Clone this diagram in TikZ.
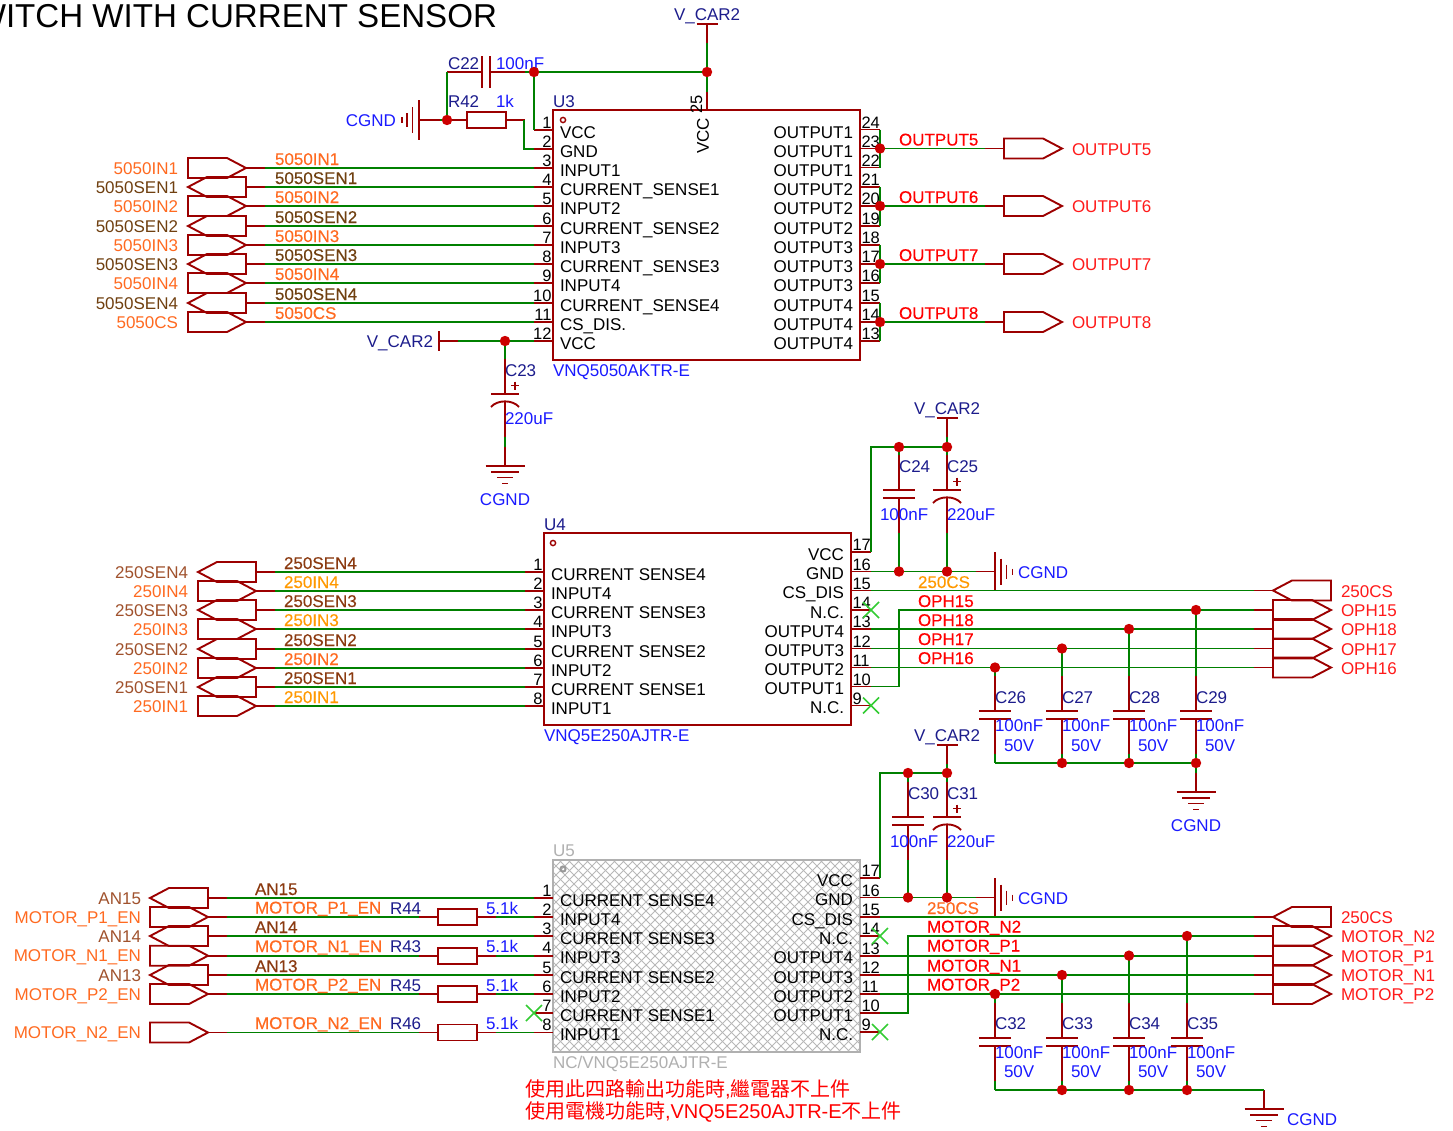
\documentclass[tikz,border=0pt]{standalone}
\usepackage{fontspec}
\setmainfont{Liberation Sans}
\newfontfamily\cjk{Noto Sans CJK TC}
\newfontfamily\netf[FakeBold=0.25]{Liberation Sans}
\definecolor{wred}{HTML}{9C0000}
\definecolor{wgreen}{HTML}{008000}
\definecolor{navy}{HTML}{1C1C8C}
\definecolor{vblue}{HTML}{1A1AFF}
\definecolor{porang}{HTML}{FF6A20}
\definecolor{pbrown}{HTML}{704010}
\definecolor{pbrownb}{HTML}{A0522D}
\definecolor{namber}{HTML}{FF9900}
\definecolor{nobrown}{HTML}{8B3A10}
\definecolor{rtext}{HTML}{FF1A1A}
\definecolor{grayt}{HTML}{B0B0B0}
\definecolor{ncx}{HTML}{33CC33}
\definecolor{jdot}{HTML}{CC0000}
\newcommand\nus{\raisebox{0.9pt}{\_}}
\newcount\nodeno
\tikzset{
  every node/.append style={/utils/exec={\global\advance\nodeno by 1},name=n\the\nodeno},
  rw/.style={draw=wred,line width=1.9pt},
  gw/.style={draw=wgreen,line width=1.9pt},
  boxl/.style={draw=wred,line width=2pt},
  portl/.style={draw=wred,line width=1.9pt,line join=miter},
  txt/.style={inner sep=0,outer sep=0,anchor=base west,font=\fontsize{17}{20}\selectfont},
  txtr/.style={txt,anchor=base east},
  txtc/.style={txt,anchor=base},
  netl/.style={inner sep=0,outer sep=0,anchor=base west,font=\netf\fontsize{17}{20}\selectfont},
  pinn/.style={txt,font=\fontsize{16.5}{20}\selectfont},
  dot/.style={circle,fill=jdot,inner sep=0,minimum size=10.4pt,draw=none},
  ncl/.style={draw=ncx,line width=1.5pt},
}
% port with tip to the right, shape left edge at #2; the wire stub goes to the right
\newcommand\portOL[3]{%
  \draw[portl] (#2,#3-10)--(#2+39,#3-10)--(#2+58,#3)--(#2+39,#3+10)--(#2,#3+10)--cycle;
  \draw[rw] (#2+58,#3)--(#2+77,#3);
  \coordinate (#1) at (#2+77,#3);}
% port with tip to the left, shape tip at #2; the wire stub goes to the right
\newcommand\portIL[3]{%
  \draw[portl] (#2,#3)--(#2+19,#3-10)--(#2+58,#3-10)--(#2+58,#3+10)--(#2+19,#3+10)--cycle;
  \draw[rw] (#2+58,#3)--(#2+77,#3);
  \coordinate (#1) at (#2+77,#3);}
% ports with the wire stub at their left (#2 = shape left end)
\newcommand\portOR[3]{%
  \draw[portl] (#2,#3-10)--(#2+39,#3-10)--(#2+58,#3)--(#2+39,#3+10)--(#2,#3+10)--cycle;
  \draw[rw] (#2-19,#3)--(#2,#3);
  \coordinate (#1) at (#2-19,#3);}
\newcommand\portIR[3]{%
  \draw[portl] (#2,#3)--(#2+19,#3-10)--(#2+58,#3-10)--(#2+58,#3+10)--(#2+19,#3+10)--cycle;
  \draw[rw] (#2-19,#3)--(#2,#3);
  \coordinate (#1) at (#2-19,#3);}
\newcommand\capv[3]{%
  \draw[rw] (#2,#3-35)--(#2,#3) (#2-16,#3)--(#2+16,#3) (#2-16,#3+8)--(#2+16,#3+8) (#2,#3+8)--(#2,#3+43);
  \coordinate (#1-t) at (#2,#3-35);\coordinate (#1-b) at (#2,#3+43);}
\newcommand\capp[3]{%
  \draw[rw] (#2,#3-35)--(#2,#3) (#2-14,#3)--(#2+14,#3) (#2,#3+7.5)--(#2,#3+43);
  \draw[draw=wred,line width=1.9pt] (#2-14,#3+13) .. controls (#2-8,#3+5.5) and (#2+8,#3+5.5) .. (#2+14,#3+13);
  \draw[draw=wred,line width=1.7pt] (#2+6,#3-8.5)--(#2+14,#3-8.5) (#2+10,#3-12.5)--(#2+10,#3-4.5);
  \coordinate (#1-t) at (#2,#3-35);\coordinate (#1-b) at (#2,#3+43);}
\newcommand\gndv[3]{%
  \draw[rw] (#2,#3-19)--(#2,#3) (#2-19.5,#3)--(#2+19.5,#3) (#2-14,#3+6)--(#2+14,#3+6) (#2-8,#3+11.5)--(#2+8,#3+11.5) (#2-3,#3+17.5)--(#2+3,#3+17.5);
  \coordinate (#1) at (#2,#3-19);}
\newcommand\gndhr[3]{%
  \draw[rw] (#2-19,#3)--(#2,#3) (#2,#3-19.5)--(#2,#3+19.5) (#2+6,#3-13)--(#2+6,#3+13) (#2+11.5,#3-7)--(#2+11.5,#3+7) (#2+17.5,#3-3)--(#2+17.5,#3+3);
  \coordinate (#1) at (#2-19,#3);}
\newcommand\resh[3]{%
  \draw[rw] (#2-19,#3)--(#2,#3) (#2+39,#3)--(#2+58,#3);
  \draw[portl] (#2,#3-8)--(#2+39,#3-8)--(#2+39,#3+8)--(#2,#3+8)--cycle;
  \coordinate (#1-l) at (#2-19,#3);\coordinate (#1-r) at (#2+58,#3);}
\newcommand\vcar[3]{%
  \draw[rw] (#2-10.5,#3)--(#2+10.5,#3) (#2,#3)--(#2,#3+19);
  \coordinate (#1) at (#2,#3+19);
  \node[txt,text=navy] at (#2-33,#3-4) {V\_CAR2};}
\newcommand\ncmark[2]{\draw[ncl] (#1-8,#2-8)--(#1+8,#2+8) (#1-8,#2+8)--(#1+8,#2-8);}
\begin{document}
\begin{tikzpicture}[x=1pt,y=-1pt]
\path[use as bounding box] (0,0) rectangle (1453,1130);
\fill[white] (0,0) rectangle (1453,1130);
\node[txt,anchor=base east,font=\fontsize{33.1}{40}\selectfont] (title) at (497,27.5) {WITCH WITH CURRENT SENSOR};

%% ---------- U3 ----------
\draw[boxl] (553,110) rectangle (860,360);
\draw[draw=wred,line width=1.4pt] (563,120) circle (2.6);
\node[txt,text=navy] (U3ref) at (553,107) {U3};
\node[txt,text=vblue] (U3val) at (553,376) {VNQ5050AKTR-E};
\foreach \nm/\yy/\tx in {1/130/VCC,2/149/GND,3/168/INPUT1,4/187/CURRENT\_SENSE1,5/206/INPUT2,6/226/CURRENT\_SENSE2,7/245/INPUT3,8/264/CURRENT\_SENSE3,9/283/INPUT4,10/303/CURRENT\_SENSE4,11/322/CS\_DIS.,12/341/VCC}{
  \draw[rw] (534,\yy)--(553,\yy);
  \coordinate (U3-\nm) at (534,\yy);
  \node[pinn,anchor=base east] at (551.5,\yy-2) {\nm};
  \node[txt] at (560,\yy+8) {\tx};
}
\foreach \nm/\yy/\tx in {24/129.5/OUTPUT1,23/148.5/OUTPUT1,22/167.5/OUTPUT1,21/187/OUTPUT2,20/206/OUTPUT2,19/226/OUTPUT2,18/245/OUTPUT3,17/264/OUTPUT3,16/283/OUTPUT3,15/303/OUTPUT4,14/322/OUTPUT4,13/341/OUTPUT4}{
  \draw[rw] (860,\yy)--(880,\yy);
  \coordinate (U3-\nm) at (880,\yy);
  \node[pinn] at (861.5,\yy-1.5) {\nm};
  \node[txtr] at (853,\yy+8.5) {\tx};
}
\draw[rw] (707,92)--(707,110);
\coordinate (U3-25) at (707,92);
\node[pinn,anchor=center,rotate=90] (pin25) at (696.5,104) {25};
\node[txt,anchor=center,rotate=90] (vcc25) at (703,136) {VCC};

% supply and decoupling of U3
\vcar{VC1}{707}{24}
\coordinate (JV) at (707,72);
\coordinate (JC) at (534,72);
\coordinate (JG) at (447,120);
\draw[gw] (VC1)--(U3-25);
\draw[gw] (JC)--(JV);
\draw[gw] (JC)|-(U3-1);
\draw[rw] (447,72)--(482,72) (490,72)--(525,72) (482,56)--(482,88) (490,56)--(490,88);
\coordinate (C22-l) at (447,72);\coordinate (C22-r) at (525,72);
\draw[gw] (C22-r)--(JC);
\draw[gw] (C22-l)--(JG);
\node[txt,text=navy] (C22) at (448,69) {C22};
\node[txt,text=vblue] (C22v) at (496,69) {100nF};
\resh{R42}{467}{120}
\node[txt,text=navy] (R42n) at (448,107) {R42};
\node[txt,text=vblue] (R42v) at (496,107) {1k};
\coordinate (R42e) at (524,120);
\draw[gw] (R42e)|-(U3-2);
% CGND left of R42
\draw[rw] (440,120)--(419,120) (419,100)--(419,140) (412.5,107)--(412.5,133) (407,113)--(407,127) (402,117)--(402,123);
\coordinate (GL) at (440,120);
\draw[gw] (GL)--(JG);
\node[txtr,text=vblue] (CGNDa) at (396,126) {CGND};
% V_CAR2 at pin 12
\draw[rw] (439,331)--(439,351) (439,341)--(458,341);
\coordinate (VL) at (458,341);
\draw[gw] (VL)--(U3-12);
\node[txtr,text=navy] (VCb) at (433,347) {V\_CAR2};
\coordinate (J12) at (505,341);
\capp{C23c}{505}{394}
\node[txt,text=navy] (C23) at (505,376) {C23};
\node[txt,text=vblue] (C23v) at (505,424) {220uF};
\gndv{G23}{505}{466}
\draw[gw] (J12)--(C23c-t);
\draw[gw] (C23c-b)--(G23);
\node[txtc,text=vblue] (CGNDb) at (505,505) {CGND};

% left ports U3
\foreach \nm/\yy/\tx in {3/168/5050IN1,5/206/5050IN2,7/245/5050IN3,9/283/5050IN4,11/322/5050CS}{
  \portOL{PA\nm}{188}{\yy}
  \draw[gw] (PA\nm)--(U3-\nm);
  \node[txtr,text=porang] at (178,\yy+6) {\tx};
  \node[netl,text=porang] at (275,\yy-3) {\tx};
}
\foreach \nm/\yy/\tx in {4/187/5050SEN1,6/226/5050SEN2,8/264/5050SEN3,10/303/5050SEN4}{
  \portIL{PA\nm}{188}{\yy}
  \draw[gw] (PA\nm)--(U3-\nm);
  \node[txtr,text=pbrown] at (178,\yy+6) {\tx};
  \node[netl,text=pbrown] at (275,\yy-3) {\tx};
}
% right outputs U3
\foreach \aa/\bb/\cc/\yy/\tx in {24/23/22/148.5/OUTPUT5,21/20/19/206/OUTPUT6,18/17/16/264/OUTPUT7,15/14/13/322/OUTPUT8}{
  \draw[gw] (U3-\aa)--(U3-\cc);
  \portOR{PO\bb}{1004}{\yy}
  \draw[gw] (U3-\bb)--(PO\bb);
  \node[txt,text=rtext] at (1072,\yy+6.5) {\tx};
  \node[netl,text=red] at (899,\yy-3) {\tx};
  \node[dot] at (U3-\bb) {};
}

%% ---------- U4 ----------
\draw[boxl] (544,533) rectangle (851,725);
\draw[draw=wred,line width=1.4pt] (553,543) circle (2.6);
\node[txt,text=navy] (U4ref) at (544,530) {U4};
\node[txt,text=vblue] (U4val) at (544,741) {VNQ5E250AJTR-E};
\foreach \nm/\yy/\tx in {1/572/CURRENT SENSE4,2/591/INPUT4,3/610/CURRENT SENSE3,4/629/INPUT3,5/649/CURRENT SENSE2,6/668/INPUT2,7/687/CURRENT SENSE1,8/706/INPUT1}{
  \draw[rw] (525,\yy)--(544,\yy);
  \coordinate (U4-\nm) at (525,\yy);
  \node[pinn,anchor=base east] at (542.5,\yy-2) {\nm};
  \node[txt] at (551,\yy+8) {\tx};
}
\foreach \nm/\yy/\tx in {17/552/VCC,16/571.5/GND,15/590.5/CS\_DIS,14/610/N.C.,13/629/OUTPUT4,12/648.5/OUTPUT3,11/667.5/OUTPUT2,10/686.5/OUTPUT1,9/705.5/N.C.}{
  \draw[rw] (851,\yy)--(871,\yy);
  \coordinate (U4-\nm) at (871,\yy);
  \node[pinn] at (852.5,\yy-1.5) {\nm};
  \node[txtr] at (844,\yy+8) {\tx};
}
\ncmark{871}{610}
\ncmark{871}{705.5}
\foreach \nm/\yy/\tx/\cl in {2/591/250IN4/namber,4/629/250IN3/namber,6/668/250IN2/porang,8/706/250IN1/namber}{
  \portOL{PB\nm}{198}{\yy}
  \draw[gw] (PB\nm)--(U4-\nm);
  \node[txtr,text=porang] at (188,\yy+6) {\tx};
  \node[netl,text=\cl] at (284,\yy-3) {\tx};
}
\foreach \nm/\yy/\tx in {1/572/250SEN4,3/610/250SEN3,5/649/250SEN2,7/687/250SEN1}{
  \portIL{PB\nm}{198}{\yy}
  \draw[gw] (PB\nm)--(U4-\nm);
  \node[txtr,text=pbrownb] at (188,\yy+6) {\tx};
  \node[netl,text=nobrown] at (284,\yy-3) {\tx};
}
\vcar{VC2}{947}{418}
\coordinate (J24t) at (899,447);
\coordinate (J25t) at (947,447);
\coordinate (J24b) at (899,571.5);
\coordinate (J25b) at (947,571.5);
\draw[gw] (VC2)--(J25t);
\draw[gw] (U4-17)|-(J25t);
\capv{C24c}{899}{490}
\capp{C25c}{947}{490}
\draw[gw] (J24t)--(C24c-t) (C24c-b)--(J24b);
\draw[gw] (J25t)--(C25c-t) (C25c-b)--(J25b);
\node[txt,text=navy] (C24) at (899,472) {C24};
\node[txt,text=vblue] (C24v) at (880,520) {100nF};
\node[txt,text=navy] (C25) at (947,472) {C25};
\node[txt,text=vblue] (C25v) at (947,520) {220uF};
\gndhr{G4}{995}{571.5}
\draw[gw] (U4-16)--(G4);
\node[txt,text=vblue] (CGNDc) at (1018,578) {CGND};
% right ports U4
\portIR{PC1}{1273}{590.5}
\portOR{PC2}{1273}{610}
\portOR{PC3}{1273}{629}
\portOR{PC4}{1273}{648.5}
\portOR{PC5}{1273}{667.5}
\node[txt,text=rtext] (pcA) at (1341,597) {250CS};
\node[txt,text=rtext] (pcB) at (1341,616) {OPH15};
\node[txt,text=rtext] (pcC) at (1341,635) {OPH18};
\node[txt,text=rtext] (pcD) at (1341,655) {OPH17};
\node[txt,text=rtext] (pcE) at (1341,674) {OPH16};
\coordinate (B4) at (899,686.5);
\draw[gw] (U4-15)--(PC1);
\draw[gw] (U4-10)--(B4)|-(PC2);
\draw[gw] (U4-13)--(PC3);
\draw[gw] (U4-12)--(PC4);
\draw[gw] (U4-11)--(PC5);
\node[netl,text=namber] (n250a) at (918,588) {250CS};
\foreach \yy/\tx in {601/OPH15,620/OPH18,639/OPH17,658/OPH16}{
  \node[netl,text=red] at (918,\yy+6) {\tx};
}
\foreach \nm/\xx/\yy in {C26/995/667.5,C27/1062/648.5,C28/1129/629,C29/1196/610}{
  \capv{\nm c}{\xx}{711}
  \coordinate (J\nm) at (\xx,\yy);
  \coordinate (K\nm) at (\xx,763);
  \draw[gw] (J\nm)--(\nm c-t) (\nm c-b)--(K\nm);
  \node[txt,text=navy] at (\xx,703) {\nm};
  \node[txt,text=vblue] at (\xx,731) {100nF};
  \node[txt,text=vblue] at (\xx+9,751) {50V};
}
\draw[gw] (KC26)--(KC29);
\gndv{G5}{1196}{792}
\draw[gw] (KC29)--(G5);
\node[txtc,text=vblue] (CGNDd) at (1196,831) {CGND};

%% ---------- U5 ----------
\begin{scope}
\clip (553,860) rectangle (860,1052);
\foreach \k in {0,9,...,504}{
  \draw[draw=black!28,line width=0.9pt] ({553+\k},860)--({553+\k-192},1052);
  \draw[draw=black!28,line width=0.9pt] ({553+\k-192},860)--({553+\k},1052);
}
\end{scope}
\draw[draw=grayt,line width=2pt] (553,860) rectangle (860,1052);
\draw[draw=black!40,line width=2pt] (563,869) circle (2.6);
\node[txt,text=grayt] (U5ref) at (553,856) {U5};
\node[txt,text=grayt] (U5val) at (553,1068) {NC/VNQ5E250AJTR-E};
\foreach \nm/\yy/\tx in {1/898/CURRENT SENSE4,2/917/INPUT4,3/936/CURRENT SENSE3,4/955.7/INPUT3,5/975/CURRENT SENSE2,6/994/INPUT2,7/1013/CURRENT SENSE1,8/1032.5/INPUT1}{
  \draw[rw] (534,\yy)--(553,\yy);
  \coordinate (U5-\nm) at (534,\yy);
  \node[pinn,anchor=base east] at (551.5,\yy-2) {\nm};
  \node[txt] at (560,\yy+8) {\tx};
}
\foreach \nm/\yy/\tx in {17/878/VCC,16/897.5/GND,15/917/CS\_DIS,14/936/N.C.,13/955.6/OUTPUT4,12/975/OUTPUT3,11/994/OUTPUT2,10/1013/OUTPUT1,9/1032/N.C.}{
  \draw[rw] (860,\yy)--(880,\yy);
  \coordinate (U5-\nm) at (880,\yy);
  \node[pinn] at (861.5,\yy-1.5) {\nm};
  \node[txtr] at (853,\yy+8) {\tx};
}
\ncmark{534}{1013}
\ncmark{880}{936}
\ncmark{880}{1032}
\foreach \nm/\yy/\tx in {1/898/AN15,3/936/AN14,5/975/AN13}{
  \portIL{PD\nm}{150}{\yy}
  \draw[gw] (PD\nm)--(U5-\nm);
  \node[txtr,text=pbrownb] at (141,\yy+6) {\tx};
  \node[netl,text=nobrown] at (255,\yy-3) {\tx};
}
\foreach \nm/\yy/\tx/\rr in {2/917/P1/R44,4/955.7/N1/R43,6/994/P2/R45,8/1032.5/N2/R46}{
  \portOL{PD\nm}{150}{\yy}
  \resh{\rr c}{438}{\yy}
  \draw[gw] (PD\nm)--(\rr c-l);
  \draw[gw] (\rr c-r)--(U5-\nm);
  \node[txtr,text=porang] at (141,\yy+6) {MOTOR\_\tx\_EN};
  \node[netl,text=porang] at (255,\yy-3.5) {MOTOR\nus\tx\nus EN};
  \node[txt,text=navy] at (390,\yy-3) {\rr};
  \node[txt,text=vblue] at (486,\yy-3) {5.1k};
}
\vcar{VC3}{947}{745}
\coordinate (J30t) at (908,773);
\coordinate (J31t) at (947,773);
\coordinate (J30b) at (908,897.5);
\coordinate (J31b) at (947,897.5);
\draw[gw] (VC3)--(J31t);
\draw[gw] (U5-17)|-(J31t);
\capv{C30c}{908}{817}
\capp{C31c}{947}{817}
\draw[gw] (J30t)--(C30c-t) (C30c-b)--(J30b);
\draw[gw] (J31t)--(C31c-t) (C31c-b)--(J31b);
\node[txt,text=navy] (C30) at (908,799) {C30};
\node[txt,text=vblue] (C30v) at (890,847) {100nF};
\node[txt,text=navy] (C31) at (947,799) {C31};
\node[txt,text=vblue] (C31v) at (947,847) {220uF};
\gndhr{G6}{995}{897.5}
\draw[gw] (U5-16)--(G6);
\node[txt,text=vblue] (CGNDe) at (1018,904) {CGND};
\portIR{PE1}{1273}{917}
\portOR{PE2}{1273}{936}
\portOR{PE3}{1273}{955.6}
\portOR{PE4}{1273}{975}
\portOR{PE5}{1273}{994}
\node[txt,text=rtext] (peA) at (1341,923) {250CS};
\node[txt,text=rtext] (peB) at (1341,942) {MOTOR\_N2};
\node[txt,text=rtext] (peC) at (1341,962) {MOTOR\_P1};
\node[txt,text=rtext] (peD) at (1341,981) {MOTOR\_N1};
\node[txt,text=rtext] (peE) at (1341,1000) {MOTOR\_P2};
\coordinate (B5) at (908,1013);
\draw[gw] (U5-15)--(PE1);
\draw[gw] (U5-10)--(B5)|-(PE2);
\draw[gw] (U5-13)--(PE3);
\draw[gw] (U5-12)--(PE4);
\draw[gw] (U5-11)--(PE5);
\node[netl,text=porang] (n250b) at (927,914) {250CS};
\foreach \yy/\tx in {932.5/N2,951.5/P1,971.5/N1,990.5/P2}{
  \node[netl,text=red] at (927,\yy) {MOTOR\nus\tx};
}
\foreach \nm/\xx/\yy in {C32/995/994,C33/1062/975,C34/1129/955.6,C35/1187/936}{
  \capv{\nm c}{\xx}{1038}
  \coordinate (J\nm) at (\xx,\yy);
  \coordinate (K\nm) at (\xx,1090);
  \draw[gw] (J\nm)--(\nm c-t) (\nm c-b)--(K\nm);
  \node[txt,text=navy] at (\xx,1029) {\nm};
  \node[txt,text=vblue] at (\xx,1058) {100nF};
  \node[txt,text=vblue] at (\xx+9,1077) {50V};
}
\gndv{G7}{1264}{1109}
\coordinate (KG7) at (1264,1090);
\draw[gw] (KC32)--(KG7);
\draw[rw] (KG7)--(G7);
\node[txt,text=vblue] (CGNDf) at (1287,1125) {CGND};

% notes
\node[txt,text=red,font=\fontsize{20}{24}\selectfont] (note1) at (525,1096) {{\cjk 使用此四路輸出功能時},{\cjk 繼電器不上件}};
\node[txt,text=red,font=\fontsize{20}{24}\selectfont] (note2) at (525,1118) {{\cjk 使用電機功能時},VNQ5E250AJTR-E{\cjk 不上件}};

% junction dots
\foreach \p in {JV,JC,JG,J12,J24t,J25t,J24b,J25b,JC26,JC27,JC28,JC29,KC27,KC28,KC29,J30t,J31t,J30b,J31b,JC32,JC33,JC34,JC35,KC33,KC34,KC35}{
  \node[dot] at (\p) {};
}
\end{tikzpicture}
\end{document}
